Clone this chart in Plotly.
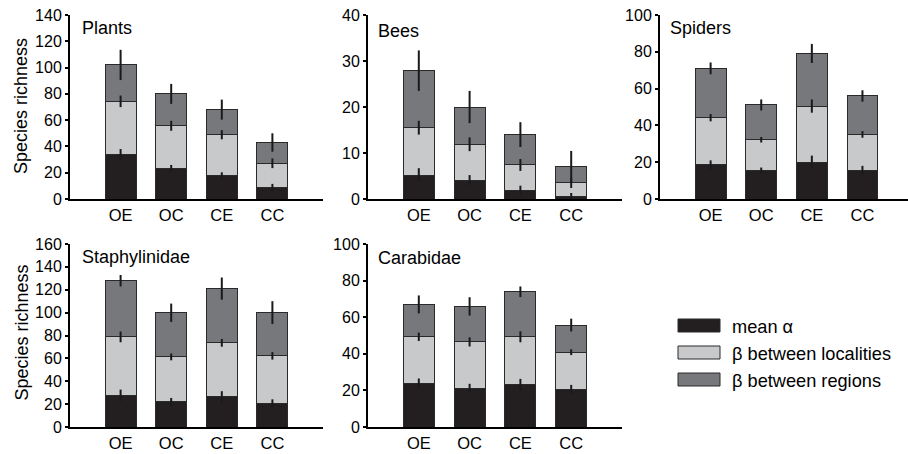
import plotly.graph_objects as go

W, H = 908, 454

categories = ["OE", "OC", "CE", "CC"]
positions = [1, 2, 3, 4]
series_names = ["mean α", "β between localities", "β between regions"]

panel_names = ["Plants", "Bees", "Spiders", "Staphylinidae", "Carabidae"]

# segment values per panel: alpha, beta localities, beta regions
plants_alpha = [34, 23.4, 18, 8.7]
plants_loc = [40.3, 32.3, 30.9, 18.5]
plants_reg = [27.7, 24.3, 19.1, 15.8]
plants_err_alpha = [4, 2.5, 2.3, 2.8]
plants_err_loc = [4.4, 3.8, 3.5, 3.7]
plants_err_reg = [11.5, 7.6, 7.6, 7]

bees_alpha = [5.2, 4.1, 1.9, 0.5]
bees_loc = [10.3, 7.8, 5.5, 3.0]
bees_reg = [12.4, 8.1, 6.6, 3.55]
bees_err_alpha = [1.5, 1.1, 1, 0.8]
bees_err_loc = [1.5, 1.5, 1.3, 1.1]
bees_err_reg = [4.4, 3.5, 2.7, 3.4]

spiders_alpha = [18.5, 15.6, 20, 15.6]
spiders_loc = [25.7, 16.6, 30.5, 19.5]
spiders_reg = [26.8, 18.9, 28.6, 20.9]
spiders_err_alpha = [2.5, 1.5, 3.6, 2.4]
spiders_err_loc = [2, 1.5, 3.6, 1.8]
spiders_err_reg = [3.2, 3, 5.2, 3.1]

staph_alpha = [27.7, 21.9, 26.3, 20.7]
staph_loc = [51.1, 39.4, 47.3, 41.5]
staph_reg = [49.1, 38.6, 47.4, 37.8]
staph_err_alpha = [5, 3.5, 5, 3.5]
staph_err_loc = [4.7, 3, 3.4, 3.3]
staph_err_reg = [5, 8, 9.7, 10]

carab_alpha = [23.9, 21.2, 23, 20.6]
carab_loc = [25.4, 25.3, 26.3, 20.3]
carab_reg = [17.7, 19.4, 24.6, 14.8]
carab_err_alpha = [2.6, 2.4, 3.3, 2.4]
carab_err_loc = [2.3, 2.5, 3, 1.6]
carab_err_reg = [4.9, 5, 2.9, 3.5]

y_max = [140, 40, 100, 160, 100]
y_dtick = [20, 10, 20, 20, 20]

panels = [
    (plants_alpha, plants_loc, plants_reg, plants_err_alpha, plants_err_loc, plants_err_reg),
    (bees_alpha, bees_loc, bees_reg, bees_err_alpha, bees_err_loc, bees_err_reg),
    (spiders_alpha, spiders_loc, spiders_reg, spiders_err_alpha, spiders_err_loc, spiders_err_reg),
    (staph_alpha, staph_loc, staph_reg, staph_err_alpha, staph_err_loc, staph_err_reg),
    (carab_alpha, carab_loc, carab_reg, carab_err_alpha, carab_err_loc, carab_err_reg),
]

colors = ["#231f20", "#c8c9cb", "#77787b"]
FONT = "Liberation Sans, Arial, sans-serif"

# layout geometry (pixels)
x_doms_px = [(70, 323), (368, 622), (660, 908), (70, 323), (368, 622)]
x_ranges = [[0, 5], [0, 5], [0, 4.9], [0, 5], [0, 5]]
y_doms_px = [(15, 199), (15, 199), (15, 199), (244, 427), (244, 427)]
label_pos = [(82, 28), (378, 31), (670, 28), (82, 257), (378, 258)]

fig = go.Figure()
layout = dict(
    width=W, height=H,
    margin=dict(l=0, r=0, t=0, b=0, pad=0, autoexpand=False),
    paper_bgcolor="white", plot_bgcolor="white",
    showlegend=False, barmode="stack",
    font=dict(family=FONT, size=16, color="black"),
)
annotations = []
shapes = []

for i, data in enumerate(panels):
    sfx = "" if i == 0 else str(i + 1)
    xa, ya = "x" + sfx, "y" + sfx
    segs = data[:3]
    errs = data[3:]
    cum = [0, 0, 0, 0]
    tops = []
    for s, seg in enumerate(segs):
        fig.add_trace(go.Bar(
            x=positions, y=seg, xaxis=xa, yaxis=ya, width=0.61,
            marker=dict(color=colors[s], line=dict(color="#2a2a2a", width=1)),
            name=series_names[s],
        ))
        cum = [c + v for c, v in zip(cum, seg)]
        tops.append(list(cum))
    for s in range(3):
        fig.add_trace(go.Scatter(
            x=positions, y=tops[s], xaxis=xa, yaxis=ya, mode="markers",
            marker=dict(size=1, color="rgba(0,0,0,0)"),
            error_y=dict(type="data", array=errs[s], visible=True,
                         thickness=2, width=0, color="#1a1a1a"),
            hoverinfo="skip", cliponaxis=False,
        ))
    x0, x1 = x_doms_px[i]
    y0, y1 = y_doms_px[i]
    layout["xaxis" + sfx] = dict(
        domain=[x0 / W, x1 / W], range=x_ranges[i], anchor=ya,
        tickmode="array", tickvals=positions, ticktext=categories,
        showline=True, linecolor="black", linewidth=2, ticks="",
        showgrid=False, zeroline=False, tickfont=dict(size=16.5),
        fixedrange=True, automargin=False,
    )
    layout["yaxis" + sfx] = dict(
        domain=[1 - y1 / H, 1 - y0 / H], range=[0, y_max[i]], anchor=xa,
        dtick=y_dtick[i], tick0=0, showline=True, linecolor="black", linewidth=2,
        ticks="outside", ticklen=3, tickwidth=1.5, tickcolor="black",
        showgrid=False, zeroline=False, tickfont=dict(size=16),
        fixedrange=True, automargin=False,
    )
    lx, ly = label_pos[i]
    annotations.append(dict(
        text=panel_names[i], xref="paper", yref="paper",
        x=(lx - 2) / W, y=1 - ly / H, xanchor="left", yanchor="middle",
        showarrow=False, font=dict(size=18),
    ))

for yc in [(15 + 199) / 2 - 1, (244 + 427) / 2 - 3]:
    annotations.append(dict(
        text="Species richness", xref="paper", yref="paper",
        x=21 / W, y=1 - yc / H, xanchor="center", yanchor="middle",
        textangle=-90, showarrow=False, font=dict(size=18),
    ))

# legend drawn manually
leg_box_x = (678, 720)
leg_rows = [(319, 332), (346, 359), (373, 386)]
for s, (t, b) in enumerate(leg_rows):
    shapes.append(dict(
        type="rect", xref="paper", yref="paper",
        x0=leg_box_x[0] / W, x1=leg_box_x[1] / W, y0=1 - b / H, y1=1 - t / H,
        fillcolor=colors[s], line=dict(color="#2a2a2a", width=1),
    ))
    annotations.append(dict(
        text=series_names[s], xref="paper", yref="paper",
        x=730 / W, y=1 - ((t + b) / 2 + 1) / H, xanchor="left", yanchor="middle",
        showarrow=False, font=dict(size=18.2),
    ))

layout["annotations"] = annotations
layout["shapes"] = shapes
fig.update_layout(**layout)
fig.write_html(
    "out.html",
    config={"displayModeBar": False},
    post_script="document.body.style.margin='0px';document.body.style.overflow='hidden';",
)
